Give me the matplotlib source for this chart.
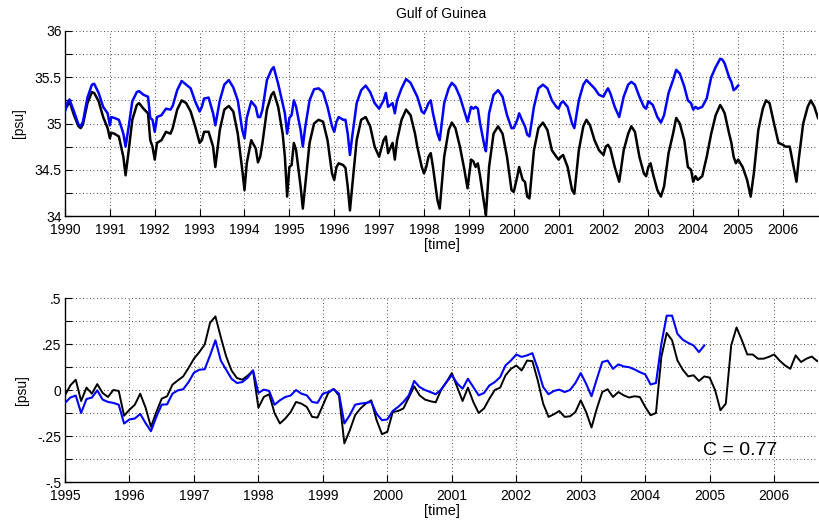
import numpy as np
import matplotlib
matplotlib.use('Agg')
import matplotlib.pyplot as plt
from matplotlib.ticker import MultipleLocator, FuncFormatter

# ---------------- salinity time series (upper panel) ----------------
sal_time = [
    1990.00, 1990.05, 1990.10, 1990.20, 1990.30, 1990.35, 1990.40, 1990.50, 1990.60, 1990.65,
    1990.75, 1990.85, 1990.95, 1991.00, 1991.03, 1991.10, 1991.20, 1991.25, 1991.30, 1991.35,
    1991.42, 1991.50, 1991.60, 1991.65, 1991.75, 1991.85, 1991.90, 1991.95, 1992.00, 1992.05,
    1992.15, 1992.25, 1992.35, 1992.40, 1992.50, 1992.60, 1992.70, 1992.80, 1992.90, 1993.00,
    1993.05, 1993.10, 1993.20, 1993.30, 1993.35, 1993.45, 1993.55, 1993.65, 1993.75, 1993.85,
    1993.95, 1994.00, 1994.05, 1994.15, 1994.25, 1994.30, 1994.35, 1994.40, 1994.50, 1994.60,
    1994.65, 1994.75, 1994.85, 1994.90, 1994.95, 1995.00, 1995.05, 1995.10, 1995.15, 1995.25,
    1995.30, 1995.35, 1995.45, 1995.55, 1995.65, 1995.75, 1995.85, 1995.95, 1996.00, 1996.05,
    1996.10, 1996.20, 1996.25, 1996.30, 1996.35, 1996.40, 1996.50, 1996.60, 1996.70, 1996.80,
    1996.90, 1997.00, 1997.10, 1997.15, 1997.20, 1997.30, 1997.35, 1997.40, 1997.50, 1997.60,
    1997.70, 1997.80, 1997.85, 1997.95, 1998.00, 1998.05, 1998.10, 1998.15, 1998.20, 1998.30,
    1998.35, 1998.45, 1998.55, 1998.62, 1998.70, 1998.80, 1998.90, 1998.97, 1999.05, 1999.10,
    1999.15, 1999.20, 1999.25, 1999.35, 1999.38, 1999.45, 1999.55, 1999.65, 1999.75, 1999.85,
    1999.95, 2000.00, 2000.08, 2000.12, 2000.20, 2000.25, 2000.30, 2000.35, 2000.45, 2000.55,
    2000.65, 2000.75, 2000.85, 2000.95, 2001.00, 2001.05, 2001.10, 2001.20, 2001.30, 2001.35,
    2001.45, 2001.55, 2001.62, 2001.70, 2001.80, 2001.90, 2002.00, 2002.05, 2002.10, 2002.15,
    2002.25, 2002.35, 2002.45, 2002.55, 2002.62, 2002.70, 2002.80, 2002.90, 2002.95, 2003.00,
    2003.05, 2003.10, 2003.20, 2003.28, 2003.35, 2003.45, 2003.55, 2003.62, 2003.70, 2003.80,
    2003.88, 2003.95, 2004.00, 2004.05, 2004.10, 2004.20, 2004.30, 2004.40, 2004.50, 2004.60,
    2004.65, 2004.70, 2004.80, 2004.85, 2004.90, 2004.95, 2005.00, 2005.10, 2005.20, 2005.28,
    2005.35, 2005.45, 2005.55, 2005.62, 2005.70, 2005.80, 2005.90, 2006.00, 2006.05, 2006.15,
    2006.25, 2006.30, 2006.35, 2006.45, 2006.55, 2006.62, 2006.70, 2006.78,
]

sal_black = [
    35.15, 35.19, 35.24, 35.09, 34.97, 34.95, 34.99, 35.22, 35.34, 35.33,
    35.24, 35.07, 34.95, 34.84, 34.90, 34.89, 34.86, 34.75, 34.64, 34.44,
    34.71, 35.04, 35.20, 35.22, 35.16, 35.11, 34.82, 34.75, 34.61, 34.79,
    34.82, 34.91, 34.89, 34.95, 35.15, 35.25, 35.22, 35.13, 34.97, 34.79,
    34.82, 34.91, 34.91, 34.75, 34.53, 34.93, 35.15, 35.19, 35.13, 34.89,
    34.50, 34.28, 34.57, 34.82, 34.73, 34.58, 34.64, 34.79, 35.15, 35.31,
    35.34, 35.18, 34.89, 34.64, 34.21, 34.53, 34.55, 34.79, 34.71, 34.32,
    34.08, 34.32, 34.79, 35.00, 35.04, 35.02, 34.82, 34.46, 34.39, 34.53,
    34.57, 34.55, 34.52, 34.32, 34.06, 34.32, 34.82, 35.04, 35.07, 34.97,
    34.75, 34.64, 34.82, 34.86, 34.68, 34.79, 34.61, 34.82, 35.04, 35.15,
    35.09, 34.89, 34.75, 34.53, 34.46, 34.53, 34.64, 34.68, 34.53, 34.17,
    34.08, 34.64, 34.93, 35.01, 34.95, 34.75, 34.50, 34.30, 34.61, 34.59,
    34.53, 34.57, 34.43, 34.10, 34.01, 34.53, 34.89, 34.97, 34.89, 34.64,
    34.28, 34.26, 34.43, 34.53, 34.39, 34.37, 34.21, 34.19, 34.71, 34.95,
    35.01, 34.93, 34.71, 34.64, 34.61, 34.64, 34.66, 34.53, 34.28, 34.24,
    34.71, 34.97, 35.04, 34.98, 34.82, 34.71, 34.66, 34.75, 34.77, 34.73,
    34.53, 34.37, 34.71, 34.89, 34.97, 34.91, 34.64, 34.46, 34.43, 34.53,
    34.57, 34.46, 34.28, 34.21, 34.32, 34.68, 34.89, 35.06, 35.00, 34.82,
    34.53, 34.50, 34.37, 34.43, 34.39, 34.43, 34.64, 34.89, 35.09, 35.20,
    35.16, 35.11, 34.89, 34.79, 34.64, 34.57, 34.61, 34.53, 34.39, 34.21,
    34.46, 34.93, 35.16, 35.25, 35.22, 35.00, 34.79, 34.77, 34.75, 34.75,
    34.50, 34.37, 34.61, 35.00, 35.18, 35.25, 35.18, 35.06,
]

sal_blue = [
    35.13, 35.22, 35.26, 35.13, 34.99, 34.97, 35.02, 35.28, 35.42, 35.43,
    35.33, 35.18, 35.11, 34.98, 35.07, 35.06, 35.04, 34.97, 34.89, 34.75,
    34.97, 35.24, 35.34, 35.35, 35.31, 35.29, 35.06, 35.04, 34.91, 35.07,
    35.09, 35.16, 35.15, 35.19, 35.36, 35.46, 35.42, 35.38, 35.24, 35.13,
    35.18, 35.27, 35.28, 35.11, 34.98, 35.25, 35.42, 35.47, 35.39, 35.25,
    34.93, 34.84, 35.06, 35.24, 35.18, 35.07, 35.07, 35.15, 35.47, 35.58,
    35.61, 35.43, 35.22, 35.11, 34.89, 35.06, 35.09, 35.25, 35.18, 34.93,
    34.75, 34.95, 35.25, 35.37, 35.38, 35.34, 35.18, 34.97, 34.91, 35.02,
    35.07, 35.04, 35.04, 34.89, 34.66, 34.86, 35.22, 35.36, 35.41, 35.34,
    35.22, 35.16, 35.25, 35.33, 35.18, 35.22, 35.11, 35.25, 35.38, 35.48,
    35.44, 35.34, 35.29, 35.13, 35.11, 35.16, 35.22, 35.25, 35.11, 34.89,
    34.82, 35.22, 35.38, 35.44, 35.40, 35.29, 35.13, 35.02, 35.18, 35.16,
    35.18, 35.16, 35.00, 34.75, 34.70, 35.11, 35.31, 35.36, 35.29, 35.09,
    34.95, 34.95, 35.04, 35.11, 35.02, 34.97, 34.88, 34.86, 35.18, 35.38,
    35.42, 35.38, 35.25, 35.18, 35.16, 35.22, 35.24, 35.18, 35.00, 34.95,
    35.25, 35.42, 35.47, 35.43, 35.38, 35.31, 35.29, 35.34, 35.38, 35.33,
    35.18, 35.07, 35.29, 35.42, 35.45, 35.42, 35.29, 35.18, 35.16, 35.24,
    35.22, 35.20, 35.07, 35.01, 35.09, 35.33, 35.47, 35.58, 35.54, 35.40,
    35.25, 35.22, 35.15, 35.18, 35.16, 35.18, 35.27, 35.50, 35.61, 35.70,
    35.69, 35.65, 35.50, 35.45, 35.36, 35.38, 35.41,
]

# ---------------- monthly anomalies (lower panel) ----------------
anom_start = 1995.0
anom_black = [
    -0.029, 0.025, 0.056, -0.060, 0.013, -0.020, 0.032, -0.016, -0.038, 0.000, -0.005, -0.140,
    -0.107, -0.080, -0.020, -0.096, -0.200, -0.120, -0.047, -0.034, 0.029, 0.052, 0.074, 0.120,
    0.170, 0.206, 0.247, 0.365, 0.400, 0.287, 0.182, 0.106, 0.065, 0.056, 0.078, 0.106,
    -0.096, -0.038, -0.023, -0.125, -0.182, -0.155, -0.120, -0.065, -0.074, -0.092, -0.146, -0.150,
    -0.083, -0.016, 0.005, -0.030, -0.290, -0.220, -0.137, -0.100, -0.074, -0.056, -0.164, -0.240,
    -0.227, -0.120, -0.114, -0.100, -0.040, 0.020, -0.029, -0.052, -0.061, -0.067, 0.000, 0.043,
    0.092, 0.016, -0.060, 0.013, -0.065, -0.125, -0.100, -0.047, 0.000, 0.013, 0.080, 0.115,
    0.133, 0.106, 0.160, 0.157, 0.052, -0.074, -0.146, -0.132, -0.114, -0.146, -0.143, -0.120,
    -0.056, -0.120, -0.204, -0.100, -0.011, 0.004, -0.038, -0.011, -0.029, -0.041, -0.034, -0.038,
    -0.092, -0.137, -0.125, 0.180, 0.310, 0.270, 0.160, 0.110, 0.074, 0.080, 0.049, 0.074,
    0.067, 0.000, -0.110, -0.074, 0.242, 0.340, 0.270, 0.193, 0.193, 0.170, 0.170, 0.180,
    0.193, 0.160, 0.134, 0.115, 0.188, 0.152, 0.170, 0.182, 0.157, 0.170,
]
anom_blue = [
    -0.070, -0.041, -0.030, -0.125, -0.049, -0.041, -0.002, -0.052, -0.065, -0.070, -0.080, -0.182,
    -0.160, -0.155, -0.130, -0.180, -0.224, -0.146, -0.080, -0.078, -0.020, -0.002, 0.004, 0.043,
    0.094, 0.110, 0.113, 0.188, 0.270, 0.160, 0.110, 0.061, 0.038, 0.043, 0.067, 0.106,
    -0.016, 0.002, -0.005, -0.080, -0.056, -0.038, -0.030, 0.000, -0.020, -0.029, -0.065, -0.070,
    -0.020, -0.011, 0.005, -0.020, -0.182, -0.137, -0.080, -0.074, -0.070, -0.065, -0.130, -0.164,
    -0.160, -0.114, -0.092, -0.065, -0.029, 0.049, 0.016, 0.000, -0.011, -0.023, 0.002, 0.043,
    0.080, 0.036, 0.007, 0.061, 0.016, -0.029, -0.016, 0.025, 0.043, 0.070, 0.134, 0.160,
    0.193, 0.180, 0.188, 0.200, 0.115, 0.016, -0.023, -0.005, 0.002, -0.011, 0.000, 0.038,
    0.092, 0.034, -0.034, 0.061, 0.152, 0.160, 0.115, 0.139, 0.128, 0.124, 0.112, 0.097,
    0.085, 0.030, 0.038, 0.250, 0.404, 0.404, 0.305, 0.273, 0.256, 0.242, 0.206, 0.242,
]
corr_label = "C = 0.77"

top_years = list(range(1990, 2007))
bottom_years = list(range(1995, 2007))

plt.rcParams['font.family'] = ['Liberation Sans', 'DejaVu Sans']
plt.rcParams['font.size'] = 10

fig = plt.figure(figsize=(8.2, 5.24), dpi=100)
ax1 = fig.add_axes([65 / 820, 1 - 216 / 524, 753 / 820, 185 / 524])
ax2 = fig.add_axes([65 / 820, 1 - 482 / 524, 753 / 820, 184 / 524])

grid_kw = dict(color='0.3', linestyle=(0, (1, 2.6)), linewidth=0.7)


def style_axes(ax):
    for side in ('top', 'right'):
        ax.spines[side].set_visible(False)
    for side in ('left', 'bottom'):
        ax.spines[side].set_linewidth(1.0)
        ax.spines[side].set_color('black')
    ax.tick_params(which='both', direction='in', length=5, width=0.8,
                   labelsize=10, colors='black')
    ax.tick_params(axis='x', pad=5)
    ax.tick_params(axis='y', pad=2.5)
    ax.grid(True, which='major', axis='both', **grid_kw)
    ax.grid(True, which='minor', axis='y', **grid_kw)
    ax.set_axisbelow(True)


# upper panel: salinity
n_blue = len(sal_blue)
ax1.plot(sal_time, sal_black, color='black', linewidth=1.8, zorder=3)
ax1.plot(sal_time[:n_blue], sal_blue, color='#0000ff', linewidth=1.8, zorder=3)
ax1.set_xlim(1990, 2006.78)
ax1.set_ylim(34, 36)
ax1.set_xticks(top_years)
ax1.set_xticklabels([str(y) for y in top_years])
ax1.yaxis.set_major_locator(MultipleLocator(0.5))
ax1.yaxis.set_minor_locator(MultipleLocator(0.25))
ax1.yaxis.set_major_formatter(FuncFormatter(lambda v, p: f"{v:g}"))
style_axes(ax1)
ax1.set_title("Gulf of Guinea", fontsize=10, pad=9)
ax1.set_ylabel("[psu]", fontsize=10, labelpad=6)
ax1.set_xlabel("[time]", fontsize=10.5, labelpad=1)

# lower panel: anomalies
t_black = anom_start + np.arange(len(anom_black)) / 12.0
t_blue = anom_start + np.arange(len(anom_blue)) / 12.0
ax2.plot(t_black, anom_black, color='black', linewidth=1.4, zorder=3)
ax2.plot(t_blue, anom_blue, color='#0000ff', linewidth=1.5, zorder=3)
ax2.set_xlim(1995, 2006.68)
ax2.set_ylim(-0.5, 0.5)
ax2.set_xticks(bottom_years)
ax2.set_xticklabels([str(y) for y in bottom_years])
ax2.yaxis.set_major_locator(MultipleLocator(0.25))
ax2.yaxis.set_minor_locator(MultipleLocator(0.125))


def short_fmt(v, pos):
    if abs(v) < 1e-9:
        return "0"
    s = f"{v:g}"
    return s.replace("0.", ".")


ax2.yaxis.set_major_formatter(FuncFormatter(short_fmt))
style_axes(ax2)
ax2.set_ylabel("[psu]", fontsize=10, labelpad=6)
ax2.set_xlabel("[time]", fontsize=10.5, labelpad=1)
ax2.text(2004.9, -0.33, corr_label, fontsize=14, ha='left', va='center')

fig.savefig("out.png", dpi=100)
